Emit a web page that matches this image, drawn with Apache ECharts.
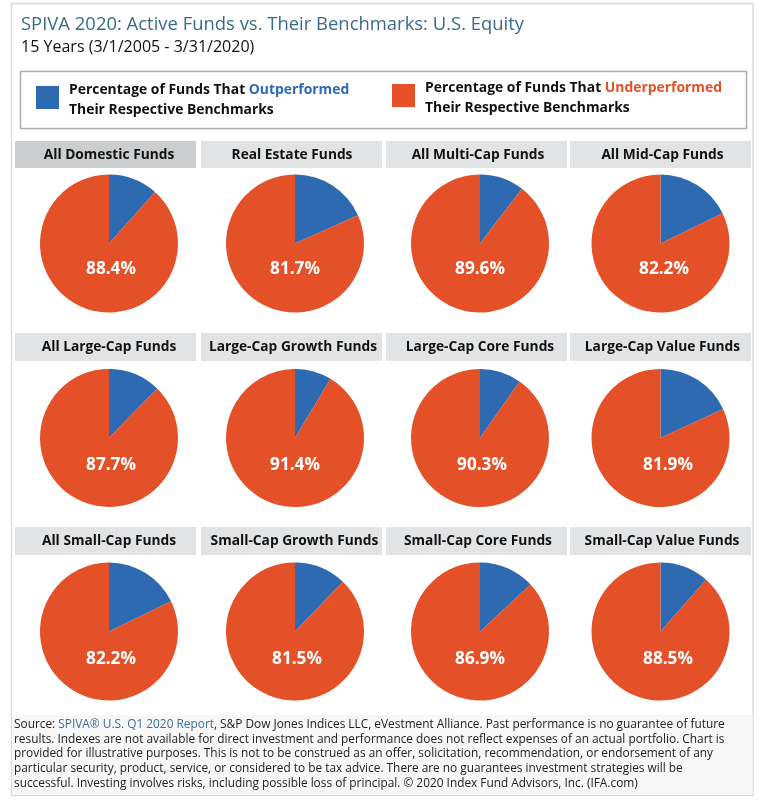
<!DOCTYPE html>
<html>
<head>
<meta charset="utf-8">
<style>html,body{margin:0;padding:0;background:#fff}#c{width:763px;height:805px}</style>
<script src="https://cdn.jsdelivr.net/npm/echarts@6/dist/echarts.min.js"></script>
</head>
<body>
<div id="c"></div>
<script>
const categories = ['All Domestic Funds','Real Estate Funds','All Multi-Cap Funds','All Mid-Cap Funds',
  'All Large-Cap Funds','Large-Cap Growth Funds','Large-Cap Core Funds','Large-Cap Value Funds',
  'All Small-Cap Funds','Small-Cap Growth Funds','Small-Cap Core Funds','Small-Cap Value Funds'];
const outperformed = [11.6,18.3,10.4,17.8,12.3,8.6,9.7,18.1,17.8,12.2,13.1,11.5];
const underperformed = [88.4,81.7,89.6,82.2,87.7,91.4,90.3,81.9,82.2,87.8,86.9,88.5];
const valueLabels = ['88.4%','81.7%','89.6%','82.2%','87.7%','91.4%','90.3%','81.9%','82.2%','81.5%','86.9%','88.5%'];

// layout
const FONT = '"Open Sans"';
const BLUE = '#2e6ab1', RED = '#e45027';
const pieX = [109,295,480,660.5];
const pieY = [243.5,438,631.5];
const boxX = [[15,196],[201,382],[386,567],[570,751]];
const boxY = [[141,168],[333,361],[527,555]];
const headX = [[109,292,478,662.5],[109,293,480,662.5],[109,294.5,478,662]];
const headY = [155,347.5,541];
const labX = [[111,295,480,664],[111,295,482,668],[111,297,480,668]];
const labY = [269,465,659];
const footerLines = [
  '{l|SPIVA® U.S. Q1 2020 Report}{t|, S&P Dow Jones Indices LLC, eVestment Alliance. Past performance is no guarantee of future}',
  'results. Indexes are not available for direct investment and performance does not reflect expenses of an actual portfolio. Chart is',
  'provided for illustrative purposes. This is not to be construed as an offer, solicitation, recommendation, or endorsement of any',
  'particular security, product, service, or considered to be tax advice. There are no guarantees investment strategies will be',
  'successful. Investing involves risks, including possible loss of principal. © 2020 Index Fund Advisors, Inc. (IFA.com)'
];
const footerY = [725,739.5,754,769,784];

const graphic = [];
const rect = (x,y,w,h,fill,stroke,lw,z) => graphic.push({type:'rect',silent:true,z:z||0,shape:{x,y,width:w,height:h},style:{fill:fill,stroke:stroke||null,lineWidth:lw||0}});
const text = (x,y,t,size,weight,color,align,rich) => graphic.push({type:'text',silent:true,z:5,x,y,style:{text:t,fontFamily:FONT,fontSize:size,fontWeight:weight,fill:color,align:align||'left',verticalAlign:'middle',rich:rich}});

rect(11.5,3.5,741.5,792,'#fff','#dcdcdc',1.5,0);
rect(12.5,715,740,80,'#f7f7f7',null,0,1);
text(21,25,'SPIVA 2020: Active Funds vs. Their Benchmarks: U.S. Equity',18.45,400,'#3a6a8c');
text(21,47,'15 Years (3/1/2005 - 3/31/2020)',16.05,400,'#111');

rect(20.5,71.5,726,57,'#fff','#a9adb0',1.5,1);
rect(36,86,23,23,BLUE,null,0,2);
rect(392,84,23,23,RED,null,0,2);
const LEG = 13.9;
const legRich = {
  k:{fontFamily:FONT,fontSize:LEG,fontWeight:700,fill:'#111'},
  b:{fontFamily:FONT,fontSize:LEG,fontWeight:700,fill:BLUE},
  r:{fontFamily:FONT,fontSize:LEG,fontWeight:700,fill:RED}
};
text(69,90,'{k|Percentage of Funds That }{b|Outperformed}',LEG,700,'#111','left',legRich);
text(69,110,'{k|Their Respective Benchmarks}',LEG,700,'#111','left',legRich);
text(425,88,'{k|Percentage of Funds That }{r|Underperformed}',LEG,700,'#111','left',legRich);
text(425,108.5,'{k|Their Respective Benchmarks}',LEG,700,'#111','left',legRich);

const series = categories.map((name,i) => {
  const r = Math.floor(i/4), c = i%4;
  rect(boxX[c][0],boxY[r][0],boxX[c][1]-boxX[c][0],boxY[r][1]-boxY[r][0],i===0?'#cbcdcf':'#e2e3e5',null,0,1);
  text(headX[r][c],headY[r],name,13.75,700,'#111','center');
  return {
    type:'pie', name, silent:true, animation:false,
    center:[pieX[c],pieY[r]], radius:[0,69], startAngle:90, clockwise:true,
    avoidLabelOverlap:false, labelLine:{show:false},
    data:[
      {name:'Outperformed',value:outperformed[i],itemStyle:{color:BLUE},label:{show:false}},
      {name:'Underperformed',value:underperformed[i],itemStyle:{color:RED},
       label:{show:true,position:'center',formatter:valueLabels[i],offset:[labX[r][c]-pieX[c],labY[r]-pieY[r]],
              color:'#fff',fontFamily:FONT,fontSize:17.2,fontWeight:700}}
    ]
  };
});

const FOOT = 11.87;
const footRich = {
  s:{fontFamily:FONT,fontSize:FOOT,fill:'#222'},
  t:{fontFamily:FONT,fontSize:FOOT,fill:'#222'},
  l:{fontFamily:FONT,fontSize:FOOT,fill:'#3a6f9e'}
};
footerLines.forEach((l,i) => text(14,footerY[i], i===0 ? '{s|Source: }'+l : '{t|'+l+'}',FOOT,400,'#222','left',footRich));

const chart = echarts.init(document.getElementById('c'),null,{renderer:'canvas'});
chart.setOption({animation:false,backgroundColor:'#fff',tooltip:{show:false},graphic:{elements:graphic},series});
</script>
</body>
</html>
